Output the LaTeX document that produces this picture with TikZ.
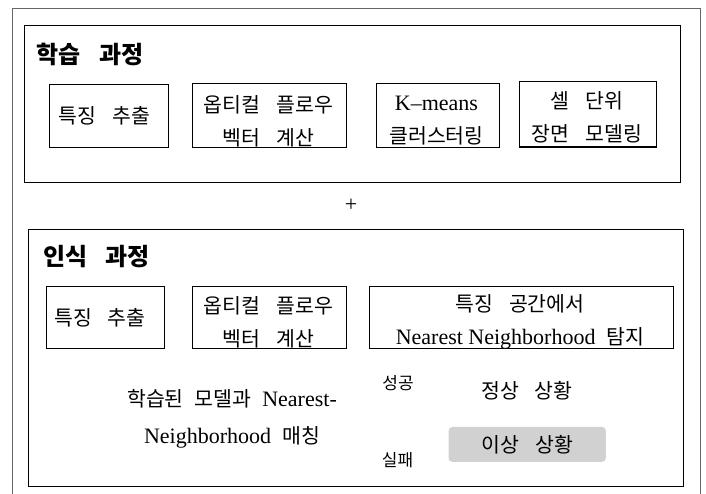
\documentclass[tikz,border=0pt]{standalone}
\usepackage{fontspec}
\setmainfont{Noto Sans CJK KR}
\newfontfamily\lat{Liberation Serif}
\newcommand\ws{\hspace{16pt}}
\newcommand\wn{\hspace{11pt}}
\newcommand\la[1]{{\lat\fontsize{22}{33}\selectfont #1}}
\begin{document}
\begin{tikzpicture}[x=1pt,y=-1pt,
  frame/.style={draw=black!60, line width=1pt},
  panel/.style={draw=black, line width=1.2pt, inner sep=0pt, anchor=north west},
  stepbox/.style={draw=black, line width=1.1pt, inner sep=0pt, anchor=north west},
  txt/.style={font=\fontsize{20.5}{33}\selectfont, align=center, inner sep=0pt},
  small/.style={font=\fontsize{17}{20}\selectfont, inner sep=0pt},
  heading/.style={font=\bfseries\fontsize{24}{28}\selectfont, inner sep=0pt},
  alert/.style={fill=black!18, rounded corners=4pt, inner sep=0pt, anchor=north west}]
\useasboundingbox (0,0) rectangle (706,494);
% outer frame (open at the bottom)
\coordinate (f1) at (12,494);
\coordinate (f2) at (12,9);
\coordinate (f3) at (700,9);
\coordinate (f4) at (700,494);
\draw[frame] (f1) -- (f2) -- (f3) -- (f4);
% panels
\node[panel, minimum width=656pt, minimum height=157pt] (learn) at (24,25) {};
\node[panel, minimum width=655pt, minimum height=257pt] (recog) at (28,229) {};
\node[heading] (learnT) at (90,54) {학습\hspace{18pt}과정};
\node[heading] (recogT) at (96.5,257) {인식\hspace{18pt}과정};
\node[font=\lat\fontsize{22}{24}\selectfont, inner sep=0pt] (plus) at (351,205) {+};
% learning row
\node[stepbox, minimum width=118.4pt, minimum height=63pt] (b1) at (49.3,84) {};
\node[stepbox, minimum width=154pt, minimum height=64pt] (b2) at (191.7,83) {};
\node[stepbox, minimum width=123.3pt, minimum height=64pt] (b3) at (376,83) {};
\node[stepbox, minimum width=136.7pt, minimum height=65.5pt] (b4) at (519.3,81) {};
\node[txt] (t1) at (104.7,115.5) {특징\ws 추출};
\node[txt] (t2) at (268.5,121.5) {옵티컬\ws 플로우\\벡터\ws 계산};
\node[txt] (t3) at (436.5,120.5) {\la{K–means}\\클러스터링};
\node[txt] (t4) at (587,117.5) {셀\ws 단위\\장면\ws 모델링};
% recognition row
\node[stepbox, minimum width=118pt, minimum height=62.3pt] (c1) at (46,285.7) {};
\node[stepbox, minimum width=154pt, minimum height=62.3pt] (c2) at (191.7,285.7) {};
\node[stepbox, minimum width=303.8pt, minimum height=62.3pt] (c3) at (369,285.7) {};
\node[txt] (u1) at (100,317.5) {특징\ws 추출};
\node[txt] (u2) at (268.5,322) {옵티컬\ws 플로우\\벡터\ws 계산};
\node[txt] (u3) at (520,321.7) {특징\ws 공간에서\\\la{Nearest Neighborhood}\wn 탐지};
% matching
\node[txt, font=\fontsize{20.5}{37}\selectfont] (match) at (232,418.5) {학습된\wn 모델과\wn \la{Nearest-}\\\la{Neighborhood}\wn 매칭};
\node[small] (ok) at (398,383.4) {성공};
\node[small] (fail) at (397.5,460.5) {실패};
\node[txt] (normal) at (527,391) {정상\ws 상황};
\node[alert, minimum width=157.4pt, minimum height=35pt] (abbox) at (448.3,426.7) {};
\node[txt] (abnormal) at (abbox.center) {이상\ws 상황};
\end{tikzpicture}
\end{document}
